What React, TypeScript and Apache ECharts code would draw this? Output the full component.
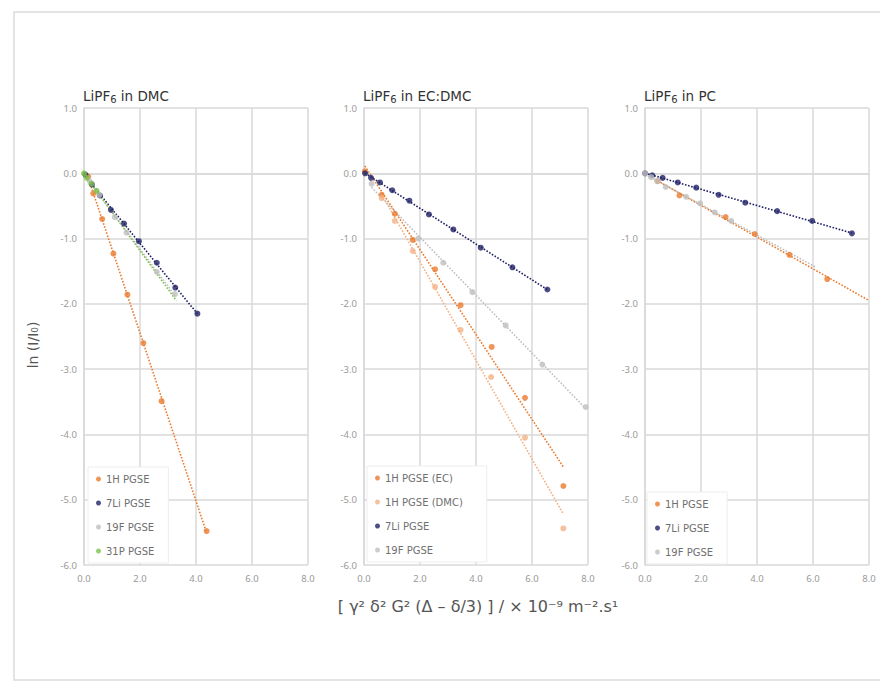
import React, { useEffect, useRef } from "react";
import * as echarts from "echarts";

// ---- data (x: γ²δ²G²(Δ-δ/3) ×1e-9 m^-2 s, y: ln(I/I0)) ----
const panelTitleParts = [["LiPF", "6", " in DMC"], ["LiPF", "6", " in EC:DMC"], ["LiPF", "6", " in PC"]];
const xTickLabels = ["0.0", "2.0", "4.0", "6.0", "8.0"];
const yTickLabels = ["-6.0", "-5.0", "-4.0", "-3.0", "-2.0", "-1.0", "0.0", "1.0"];

const dmc1H = [[0.15, -0.05], [0.33, -0.31], [0.65, -0.7], [1.05, -1.23], [1.55, -1.86], [2.12, -2.6], [2.77, -3.49], [4.38, -5.48]];
const dmc7Li = [[0.05, -0.02], [0.28, -0.17], [0.57, -0.34], [0.96, -0.56], [1.43, -0.77], [1.96, -1.04], [2.6, -1.37], [3.26, -1.75], [4.05, -2.15]];
const dmc19F = [[0.2, -0.12], [0.55, -0.33], [1.1, -0.67], [1.52, -0.91], [2.6, -1.51], [3.25, -1.85]];
const dmc31P = [[0.0, 0.0], [0.1, -0.07], [0.27, -0.16], [0.45, -0.27]];

const ec1HEC = [[0.03, 0.03], [0.63, -0.33], [1.1, -0.62], [1.74, -1.02], [2.54, -1.47], [3.45, -2.02], [4.56, -2.66], [5.75, -3.44], [7.12, -4.79]];
const ec1HDMC = [[0.63, -0.38], [1.1, -0.73], [1.74, -1.19], [2.54, -1.74], [3.45, -2.4], [4.54, -3.12], [5.75, -4.05], [7.12, -5.44]];
const ec7Li = [[0.04, 0.0], [0.25, -0.07], [0.57, -0.14], [1.01, -0.26], [1.62, -0.42], [2.32, -0.63], [3.19, -0.86], [4.17, -1.14], [5.3, -1.44], [6.55, -1.78]];
const ec19F = [[0.27, -0.16], [1.94, -1.0], [2.83, -1.37], [3.87, -1.82], [5.06, -2.33], [6.37, -2.93], [7.92, -3.58]];

const pc1H = [[0.45, -0.12], [1.23, -0.34], [2.88, -0.67], [3.92, -0.93], [5.16, -1.25], [6.51, -1.62]];
const pc7Li = [[0.0, 0.0], [0.26, -0.03], [0.63, -0.07], [1.17, -0.14], [1.83, -0.22], [2.63, -0.33], [3.58, -0.45], [4.72, -0.58], [5.97, -0.73], [7.39, -0.92]];
const pc19F = [[0.0, 0.0], [0.22, -0.06], [0.44, -0.12], [0.74, -0.21], [1.47, -0.36], [1.97, -0.46], [2.49, -0.6], [3.08, -0.73]];

// trendline forecast end (x) where the fitted line runs past the data
const trendForecastTo: Record<string, number> = { dmc31P: 3.3, pc1H: 8.0, pc19F: 6.1 };

const C_ORANGE = "#EB7A2E";
const C_LORANGE = "#F4B183";
const C_NAVY = "#1F2066";
const C_GRAY = "#BFBFBF";
const C_GREEN = "#7DC24B";

type Ser = { key: string; name: string; data: number[][]; color: string; panel: number };

const seriesDefs: Ser[] = [
  { key: "dmc1H", name: "1H PGSE", data: dmc1H, color: C_ORANGE, panel: 0 },
  { key: "dmc7Li", name: "7Li PGSE", data: dmc7Li, color: C_NAVY, panel: 0 },
  { key: "dmc19F", name: "19F PGSE", data: dmc19F, color: C_GRAY, panel: 0 },
  { key: "dmc31P", name: "31P PGSE", data: dmc31P, color: C_GREEN, panel: 0 },
  { key: "ec1HEC", name: "1H PGSE (EC)", data: ec1HEC, color: C_ORANGE, panel: 1 },
  { key: "ec1HDMC", name: "1H PGSE (DMC)", data: ec1HDMC, color: C_LORANGE, panel: 1 },
  { key: "ec7Li", name: "7Li PGSE", data: ec7Li, color: C_NAVY, panel: 1 },
  { key: "ec19F", name: "19F PGSE", data: ec19F, color: C_GRAY, panel: 1 },
  { key: "pc1H", name: "1H PGSE", data: pc1H, color: C_ORANGE, panel: 2 },
  { key: "pc7Li", name: "7Li PGSE", data: pc7Li, color: C_NAVY, panel: 2 },
  { key: "pc19F", name: "19F PGSE", data: pc19F, color: C_GRAY, panel: 2 },
];

function fit(data: number[][]) {
  const n = data.length;
  let sx = 0, sy = 0, sxx = 0, sxy = 0;
  data.forEach(([x, y]) => { sx += x; sy += y; sxx += x * x; sxy += x * y; });
  const m = (n * sxy - sx * sy) / (n * sxx - sx * sx);
  const b = (sy - m * sx) / n;
  return { m, b };
}

const FONT = "'DejaVu Sans', 'Noto Sans', sans-serif";
const TICK_FONT = "'Noto Sans', 'DejaVu Sans', sans-serif";
const GRID_LEFTS = [84, 364, 645];
const GRID_TOP = 108;
const GRID_W = 224;
const GRID_H = 457;

export default function App() {
  const ref = useRef<HTMLDivElement>(null);
  useEffect(() => {
    if (!ref.current) return;
    const chart = echarts.init(ref.current, null, { renderer: "svg" });

    const grids = GRID_LEFTS.map((l) => ({ left: l, top: GRID_TOP, width: GRID_W, height: GRID_H }));
    const axisCommon = {
      axisLine: { show: true, lineStyle: { color: "#d9d9d9", width: 1.5 } },
      axisTick: { show: false },
      splitLine: { show: true, lineStyle: { color: "#d9d9d9", width: 1.5 } },
    };
    const xAxes = GRID_LEFTS.map((_, i) => ({
      type: "value", gridIndex: i, min: 0, max: 8, interval: 2,
      ...axisCommon,
      axisLabel: {
        color: "#9a9a9a", fontSize: 9.5, fontFamily: TICK_FONT, margin: 8,
        formatter: (v: number) => xTickLabels[Math.round(v / 2)] ?? v.toFixed(1),
      },
    }));
    const yAxes = GRID_LEFTS.map((_, i) => ({
      type: "value", gridIndex: i, min: -6, max: 1, interval: 1,
      ...axisCommon,
      axisLabel: {
        color: "#9a9a9a", fontSize: 9.5, fontFamily: TICK_FONT, margin: 7,
        formatter: (v: number) => yTickLabels[Math.round(v + 6)] ?? v.toFixed(1),
      },
    }));

    const series: any[] = [];
    seriesDefs.forEach((s) => {
      const { m, b } = fit(s.data);
      const xs = s.data.map((d) => d[0]);
      const x0 = Math.min(...xs);
      const x1 = trendForecastTo[s.key] ?? Math.max(...xs);
      series.push({
        name: "trend-" + s.key,
        type: "line",
        xAxisIndex: s.panel, yAxisIndex: s.panel,
        data: [[x0, m * x0 + b], [x1, m * x1 + b]],
        showSymbol: false, symbol: "none", silent: true,
        lineStyle: { color: s.color, width: 1.6, type: [1.6, 1.6] },
        z: 2,
      });
    });
    seriesDefs.forEach((s) => {
      series.push({
        name: s.name,
        type: "scatter",
        xAxisIndex: s.panel, yAxisIndex: s.panel,
        data: s.data,
        symbol: "circle", symbolSize: 6,
        itemStyle: { color: s.color },
        z: 3,
      });
    });

    const legendBase = {
      orient: "vertical",
      icon: "circle",
      itemWidth: 5, itemHeight: 5,
      itemGap: 12,
      backgroundColor: "#ffffff",
      borderColor: "#ededed", borderWidth: 1,
      textStyle: { color: "#6f6f6f", fontSize: 10, fontFamily: FONT, lineHeight: 12 },
      z: 10,
    };
    const legends = [
      { ...legendBase, left: 88, top: 467, padding: [6, 14, 6, 8], data: ["1H PGSE", "7Li PGSE", "19F PGSE", "31P PGSE"] },
      { ...legendBase, left: 367, top: 466, padding: [6, 24, 6, 8], data: ["1H PGSE (EC)", "1H PGSE (DMC)", "7Li PGSE", "19F PGSE"] },
      { ...legendBase, left: 647, top: 492, padding: [6, 14, 6, 8], data: ["1H PGSE", "7Li PGSE", "19F PGSE"] },
    ];

    const titleGraphics = panelTitleParts.map((p, i) => ({
      type: "text",
      left: GRID_LEFTS[i] - 1,
      top: 87,
      style: {
        text: `{n|${p[0]}}{s|${p[1]}}{n|${p[2]}}`,
        rich: {
          n: { fontSize: 13.5, fontFamily: FONT, fill: "#333333", lineHeight: 18 },
          s: { fontSize: 10, fontFamily: FONT, fill: "#333333", lineHeight: 18, padding: [7, 0, 0, 0] },
        },
      },
      z: 20,
    }));

    chart.setOption({
      animation: false,
      backgroundColor: "#ffffff",
      grid: grids,
      xAxis: xAxes,
      yAxis: yAxes,
      legend: legends,
      series,
      graphic: [
        {
          type: "rect",
          shape: { x: 14, y: 12, width: 900, height: 668 },
          style: { fill: "none", stroke: "#dcdcdc", lineWidth: 1.5 },
          silent: true,
          z: 0,
        },
        ...titleGraphics,
        {
          type: "text",
          x: 33, y: 345,
          rotation: Math.PI / 2,
          style: { text: "ln (I/I₀)", fill: "#555555", font: `14px ${FONT}`, align: "center", verticalAlign: "middle" },
          z: 20,
        },
        {
          type: "text",
          x: 478, y: 606,
          style: { text: "[ γ² δ² G² (Δ – δ/3) ] / × 10⁻⁹ m⁻².s¹", fill: "#555555", font: `16px ${FONT}`, align: "center", verticalAlign: "middle" },
          z: 20,
        },
      ],
    });
    return () => chart.dispose();
  }, []);
  return <div ref={ref} style={{ position: "fixed", left: 0, top: 0, width: 880, height: 692 }} />;
}
